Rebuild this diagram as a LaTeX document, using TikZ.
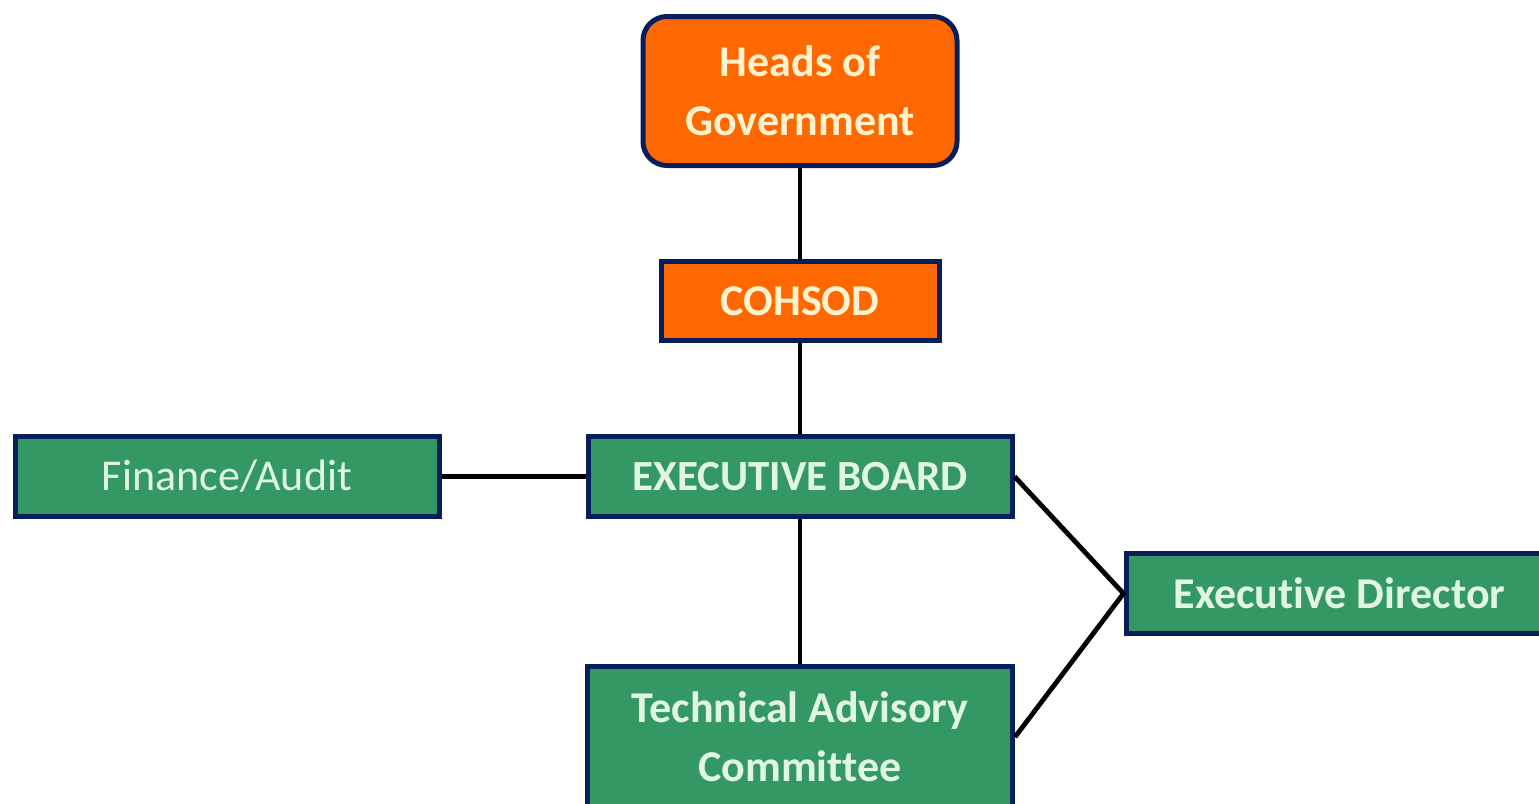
\documentclass[tikz,border=0pt]{standalone}
\usepackage{fontspec}
\setmainfont{Carlito}[Ligatures=NoCommon]
\usepackage{xcolor}
\usepackage{tikz}
\usetikzlibrary{positioning}
\definecolor{boxorange}{RGB}{255,104,0}
\definecolor{boxgreen}{RGB}{52,152,100}
\definecolor{boxnavy}{RGB}{8,30,90}
\definecolor{textcream}{RGB}{255,242,204}
\definecolor{textmint}{RGB}{224,246,226}

\begin{document}
\begin{tikzpicture}[
	node distance = 45.5pt and 72pt,
	box/.style = {draw=boxnavy, line width=2.5pt, align=center, inner sep=0pt,
		font=\fontsize{22}{29.5}\selectfont},
	orangebox/.style = {box, fill=boxorange, text=textcream, font=\fontsize{22}{29.5}\selectfont\bfseries},
	greenbox/.style = {box, fill=boxgreen, text=textmint},
	link/.style = {line width=2.4pt, black}]
\useasboundingbox (0,0) rectangle (769.5pt,-402pt);
\node[orangebox, rounded corners=12pt, minimum width=157pt, minimum height=74.5pt] (hog) at (400pt,-45.5pt) {Heads of\\ Government};
\node[orangebox, below = of hog, minimum width=139pt, minimum height=39.5pt] (cohsod) {COHSOD};
\node[greenbox, below = of cohsod, minimum width=212pt, minimum height=40pt, font=\fontsize{21.5}{29.5}\selectfont\bfseries] (board) {EXECUTIVE BOARD};
\node[greenbox, left = of board, minimum width=212pt, minimum height=40pt] (finance) {Finance/Audit};
\node[greenbox, below = 72.5pt of board, minimum width=212.5pt, minimum height=70.5pt, font=\fontsize{22}{29.5}\selectfont\bfseries] (tac) {Technical Advisory\\ Committee};
\node[greenbox, below right = 16pt and 54.5pt of board, minimum width=213.5pt, minimum height=40pt, font=\fontsize{22}{29.5}\selectfont\bfseries] (director) {Executive Director};

\draw[link] (hog) -- (cohsod);
\draw[link] (cohsod) -- (board);
\draw[link] (finance) -- (board);
\draw[link] (board) -- (tac);
\draw[link] (board.east) -- (director.west) -- (tac.east);
\end{tikzpicture}
\end{document}
